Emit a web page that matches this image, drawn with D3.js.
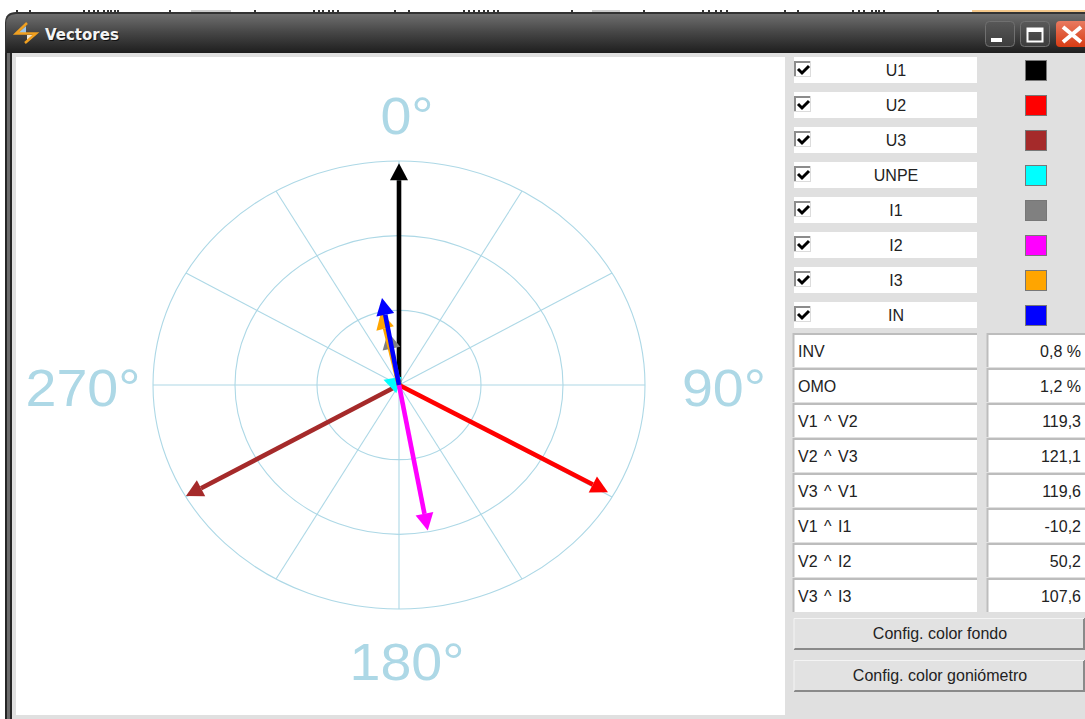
<!DOCTYPE html>
<html>
<head>
<meta charset="utf-8">
<script src="https://cdn.jsdelivr.net/npm/d3@7"></script>
<style>
body { margin: 0; background: #fff; }
svg { display: block; font-family: "Liberation Sans", Arial, sans-serif; }
</style>
</head>
<body>
<svg width="1085" height="719"></svg>
<script>
var svg = d3.select("svg"),
    width = +svg.attr("width"),
    height = +svg.attr("height");

// data
var phasors = ["U1", "U2", "U3", "UNPE", "I1", "I2", "I3", "IN"];
var swatches = ["#000000", "#ff0000", "#a52a2a", "#00ffff", "#808080", "#ff00ff", "#ffa500", "#0000ff"];
var angles = [0, 119.4, 240.2, 290, 349.3, 169.8, 347.4, 349.9]; // degrees, clockwise from top
var magnitudes = [0.99, 0.975, 0.998, 0.067, 0.241, 0.66, 0.334, 0.394];

var rings = [1 / 3, 2 / 3, 1];
var spokes = [0, 30, 60, 90, 120, 150, 180, 210, 240, 270, 300, 330];
var angleLabels = ["0°", "90°", "180°", "270°"];

var readNames = ["INV", "OMO", "V1 ^ V2", "V2 ^ V3", "V3 ^ V1", "V1 ^ I1", "V2 ^ I2", "V3 ^ I3"];
var readValues = ["0,8 %", "1,2 %", "119,3", "121,1", "119,6", "-10,2", "50,2", "107,6"];
var buttons = ["Config. color fondo", "Config. color goniómetro"];

var color = d3.scaleOrdinal(phasors, swatches);

// window frame
var defs = svg.append("defs");
var grad = defs.append("linearGradient").attr("id", "titlebar")
    .attr("x1", 0).attr("x2", 0).attr("y1", 0).attr("y2", 1);
grad.append("stop").attr("offset", "0%").attr("stop-color", "#6e6e6e");
grad.append("stop").attr("offset", "45%").attr("stop-color", "#484848");
grad.append("stop").attr("offset", "100%").attr("stop-color", "#1e1e1e");

var frameGrad = defs.append("linearGradient").attr("id", "btn")
    .attr("x1", 0).attr("x2", 0).attr("y1", 0).attr("y2", 1);
frameGrad.append("stop").attr("offset", "0%").attr("stop-color", "#585858");
frameGrad.append("stop").attr("offset", "100%").attr("stop-color", "#3c3c3c");

var redGrad = defs.append("linearGradient").attr("id", "closeBtn")
    .attr("x1", 0).attr("x2", 0).attr("y1", 0).attr("y2", 1);
redGrad.append("stop").attr("offset", "0%").attr("stop-color", "#e87a60");
redGrad.append("stop").attr("offset", "100%").attr("stop-color", "#d83c14");

// bits of the window behind, cut off at the top of the screenshot
var topTicks = [16, 29, 83, 88, 93, 97, 103, 107, 110, 114, 117, 169, 254, 313, 318, 322, 328, 332, 337, 394, 408, 463, 468, 473, 478, 483, 487, 493, 497,
    571, 643, 702, 708, 715, 720, 726, 784, 797, 852, 858, 863, 871, 875, 878, 883, 937];
svg.selectAll(".tick").data(topTicks).enter().append("rect").attr("class", "tick")
    .attr("x", function (d) { return d; }).attr("y", 10).attr("width", 2).attr("height", 2).attr("fill", "#333");
svg.append("rect").attr("x", 191).attr("y", 10).attr("width", 40).attr("height", 2).attr("fill", "#ccc");
svg.append("rect").attr("x", 592).attr("y", 10).attr("width", 28).attr("height", 2).attr("fill", "#ccc");
svg.append("rect").attr("x", 972).attr("y", 10).attr("width", 113).attr("height", 2).attr("fill", "#f5c88a");

svg.append("path")
    .attr("d", "M5,60 V23 Q5,12 16,12 H1085 V60 Z")
    .attr("fill", "#333");
svg.append("path")
    .attr("d", "M6,53 V24 Q6,14 16,14 H1085 V53 Z")
    .attr("fill", "url(#titlebar)");
// left border stripes
svg.append("rect").attr("x", 5).attr("y", 53).attr("width", 7).attr("height", 666).attr("fill", "#262626");
svg.append("rect").attr("x", 7).attr("y", 53).attr("width", 3).attr("height", 666).attr("fill", "#6a6a6a");
svg.append("rect").attr("x", 12).attr("y", 53).attr("width", 1073).attr("height", 666).attr("fill", "#e0e0e0");
svg.append("rect").attr("x", 16).attr("y", 57).attr("width", 769).attr("height", 658).attr("fill", "#fff");

// title
var icon = svg.append("g");
icon.append("path").attr("d", "M26,26 L18,33 H26 Z").attr("fill", "#9cc4e8");
icon.append("path").attr("d", "M27,35 H34 L27,41 Z").attr("fill", "#f0e6d0");
icon.append("path").attr("d", "M27,23 L16,33.5 H36 L25,43")
    .attr("fill", "none").attr("stroke", "#f0a020").attr("stroke-width", 2.5);
svg.append("text").attr("x", 46).attr("y", 41)
    .attr("font-family", "'DejaVu Sans', sans-serif").attr("font-weight", "bold").attr("font-size", 15)
    .attr("fill", "#000").attr("opacity", 0.7).text("Vectores");
svg.append("text").attr("x", 45).attr("y", 40)
    .attr("font-family", "'DejaVu Sans', sans-serif").attr("font-weight", "bold").attr("font-size", 15)
    .attr("fill", "#f4f4f4").text("Vectores");

// window buttons
[985.5, 1020.5].forEach(function (x) {
    svg.append("rect").attr("x", x).attr("y", 21.5).attr("width", 29).attr("height", 25).attr("rx", 4)
        .attr("fill", "url(#btn)").attr("stroke", "#707070");
});
svg.append("rect").attr("x", 991).attr("y", 38).attr("width", 11).attr("height", 4).attr("fill", "#fff");
svg.append("rect").attr("x", 1027.5).attr("y", 28.5).attr("width", 15).attr("height", 13)
    .attr("fill", "none").attr("stroke", "#fff").attr("stroke-width", 2);
svg.append("rect").attr("x", 1027).attr("y", 28).attr("width", 16).attr("height", 4).attr("fill", "#fff");
svg.append("path").attr("d", "M1060,21 H1085 V47 H1060 Q1056,47 1056,43 V25 Q1056,21 1060,21 Z").attr("fill", "url(#closeBtn)");
svg.append("path").attr("d", "M1063,27 L1081,42 M1081,27 L1063,42")
    .attr("stroke", "#fff").attr("stroke-width", 4).attr("fill", "none");

// goniometer scales, the plot is stretched wider than tall
var cx = 399, cy = 385;
var rx = d3.scaleLinear().domain([0, 1]).range([0, 246]);
var ry = d3.scaleLinear().domain([0, 1]).range([0, 224]);
var rad = d3.scaleLinear().domain([0, 360]).range([0, 2 * Math.PI]);

function px(a, m) { return cx + rx(m) * Math.sin(rad(a)); }
function py(a, m) { return cy - ry(m) * Math.cos(rad(a)); }

var gridColor = "#add8e6";
var grid = svg.append("g").attr("fill", "none").attr("stroke", gridColor).attr("stroke-width", 1.1);

grid.selectAll("ellipse").data(rings).enter().append("ellipse")
    .attr("cx", cx).attr("cy", cy)
    .attr("rx", function (d) { return rx(d); })
    .attr("ry", function (d) { return ry(d); });

grid.selectAll("line").data(spokes).enter().append("line")
    .attr("x1", cx).attr("y1", cy)
    .attr("x2", function (d) { return px(d, 1); })
    .attr("y2", function (d) { return py(d, 1); });

var labelX = [407, 724, 407, 83], labelY = [134, 406, 680, 406];
svg.selectAll(".angleLabel").data(angleLabels).enter().append("text")
    .attr("class", "angleLabel")
    .attr("transform", function (d, i) { return "translate(" + labelX[i] + "," + labelY[i] + ") scale(1.07,1)"; })
    .attr("text-anchor", "middle")
    .attr("font-size", 52)
    .attr("fill", gridColor)
    .text(function (d) { return d; });

// vectors
var vec = svg.selectAll(".vector").data(phasors).enter().append("g").attr("class", "vector");

vec.each(function (d, i) {
    var g = d3.select(this);
    var tx = px(angles[i], magnitudes[i]), ty = py(angles[i], magnitudes[i]);
    var len = Math.hypot(tx - cx, ty - cy);
    var ux = (tx - cx) / len, uy = (ty - cy) / len;
    var headLen = Math.min(17, len), headHalf = headLen * 0.53;
    var bx = tx - ux * headLen, by = ty - uy * headLen;
    g.append("line")
        .attr("x1", cx).attr("y1", cy).attr("x2", bx).attr("y2", by)
        .attr("stroke", color(d)).attr("stroke-width", 4.6);
    g.append("path")
        .attr("d", d3.line()([[tx, ty], [bx - uy * headHalf, by + ux * headHalf], [bx + uy * headHalf, by - ux * headHalf]]) + "Z")
        .attr("fill", color(d));
});

// phasor toggles
var rowY = d3.scalePoint().domain(phasors).range([70, 315]);

var rows = svg.selectAll(".row").data(phasors).enter().append("g").attr("class", "row")
    .attr("transform", function (d) { return "translate(0," + rowY(d) + ")"; });

rows.append("rect").attr("x", 794).attr("y", -13).attr("width", 183).attr("height", 26).attr("fill", "#fff");
rows.append("rect").attr("x", 794).attr("y", -9).attr("width", 17).attr("height", 16).attr("fill", "#dcdcdc");
rows.append("path").attr("d", "M795,6 V-8 H810").attr("fill", "none").attr("stroke", "#8c8c8c").attr("stroke-width", 2);
rows.append("rect").attr("x", 796).attr("y", -7).attr("width", 14).attr("height", 13).attr("fill", "#fff");
rows.append("path").attr("d", "M798,-1 L802,3 L809,-4")
    .attr("fill", "none").attr("stroke", "#000").attr("stroke-width", 3);
rows.append("text").attr("x", 896).attr("y", 6).attr("text-anchor", "middle").attr("font-size", 16)
    .attr("fill", "#222").text(function (d) { return d; });
rows.append("rect").attr("x", 1025.5).attr("y", -9.5).attr("width", 21).attr("height", 20)
    .attr("fill", function (d) { return color(d); }).attr("stroke", "#777");

// readouts
var readY = d3.scaleBand().domain(readNames).range([333, 613]);

var reads = svg.selectAll(".read").data(readNames).enter().append("g").attr("class", "read")
    .attr("transform", function (d) { return "translate(0," + readY(d) + ")"; });

[[793, 184], [987, 98]].forEach(function (b) {
    reads.append("rect").attr("x", b[0]).attr("y", 0).attr("width", b[1]).attr("height", 34).attr("fill", "#fff");
    reads.append("path").attr("d", "M" + (b[0] + 0.5) + ",34 V1 H" + (b[0] + b[1]))
        .attr("fill", "none").attr("stroke", "#bdbdbd").attr("stroke-width", 2);
});
reads.append("text").attr("x", 798).attr("y", 24).attr("font-size", 16).attr("word-spacing", 2).attr("fill", "#222")
    .text(function (d) { return d; });
reads.append("text").attr("x", 1081).attr("y", 24).attr("text-anchor", "end").attr("font-size", 16).attr("fill", "#222")
    .text(function (d, i) { return readValues[i]; });

// buttons
var btnY = d3.scalePoint().domain(buttons).range([618, 660]);

var btns = svg.selectAll(".cfg").data(buttons).enter().append("g").attr("class", "cfg")
    .attr("transform", function (d) { return "translate(0," + btnY(d) + ")"; });

btns.append("rect").attr("x", 794).attr("y", 0).attr("width", 291).attr("height", 32).attr("fill", "#e2e2e2");
btns.append("path").attr("d", "M794,31 H1084 V0").attr("fill", "none").attr("stroke", "#8a8a8a").attr("stroke-width", 2);
btns.append("path").attr("d", "M794,31 V0.5 H1084").attr("fill", "none").attr("stroke", "#f4f4f4");
btns.append("text").attr("x", 940).attr("y", 21).attr("text-anchor", "middle").attr("font-size", 16)
    .attr("fill", "#222").text(function (d) { return d; });
</script>
</body>
</html>
